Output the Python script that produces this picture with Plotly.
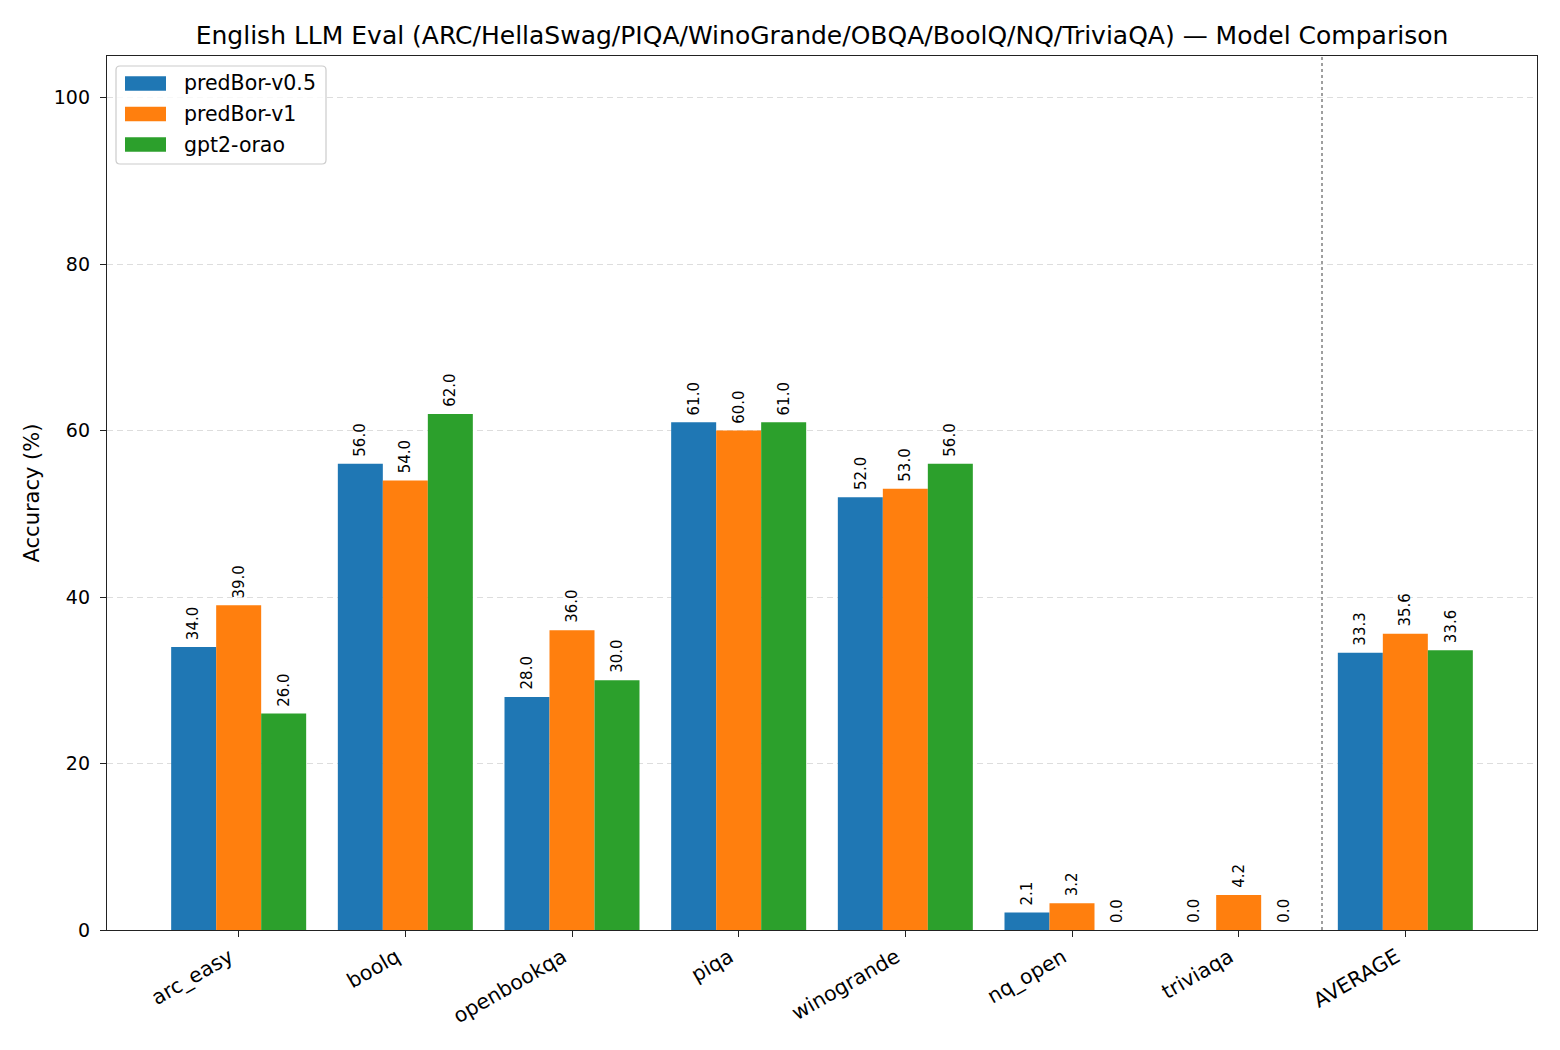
import numpy as np
import plotly.graph_objects as go

categories = ["arc_easy", "boolq", "openbookqa", "piqa", "winogrande", "nq_open", "triviaqa", "AVERAGE"]
models = ["predBor-v0.5", "predBor-v1", "gpt2-orao"]
v05 = [34.0, 56.0, 28.0, 61.0, 52.0, 2.1, 0.0, 33.3]
v1 = [39.0, 54.0, 36.0, 60.0, 53.0, 3.2, 4.2, 35.6]
orao = [26.0, 62.0, 30.0, 61.0, 56.0, 0.0, 0.0, 33.6]
colors = ["#1f77b4", "#ff7f0e", "#2ca02c"]
series = [v05, v1, orao]

FONT = "DejaVu Sans"
W, H = 1560, 1050
ML, MR, MT, MB = 107, 23, 56, 120
PW, PH = W - ML - MR, H - MT - MB


def px(xp):
    return (xp - ML) / PW


def py(yp):
    return (H - MB - yp) / PH


width = 0.27
x = np.arange(len(categories))

fig = go.Figure()
annotations = []
shapes = []
for k, (name, vals, col) in enumerate(zip(models, series, colors)):
    off = (k - 1) * width
    fig.add_trace(go.Bar(
        x=x, y=vals, name=name, marker=dict(color=col, line=dict(width=0)),
        width=width, offset=off - width / 2, showlegend=False,
    ))
    for i, v in enumerate(vals):
        annotations.append(dict(
            x=i + off, y=v, xref="x", yref="y", text=f"{v:.1f}",
            textangle=-90, showarrow=False, yanchor="bottom", xanchor="center",
            yshift=5, font=dict(family=FONT, size=15, color="black"),
        ))

# separator before AVERAGE
shapes.append(dict(type="line", x0=len(categories) - 1.5, x1=len(categories) - 1.5,
                   y0=0, y1=1, xref="x", yref="paper", layer="above",
                   line=dict(color="gray", width=1.5, dash="dot")))

# custom legend (matplotlib-like)
bx0, by0, bx1, by1, r = 116, 66, 326, 164, 4


def rounded_path(x0, y0, x1, y1, r):
    pts = []
    pts.append(f"M {px(x0 + r)} {py(y0)}")
    pts.append(f"L {px(x1 - r)} {py(y0)}")
    pts.append(f"Q {px(x1)} {py(y0)} {px(x1)} {py(y0 + r)}")
    pts.append(f"L {px(x1)} {py(y1 - r)}")
    pts.append(f"Q {px(x1)} {py(y1)} {px(x1 - r)} {py(y1)}")
    pts.append(f"L {px(x0 + r)} {py(y1)}")
    pts.append(f"Q {px(x0)} {py(y1)} {px(x0)} {py(y1 - r)}")
    pts.append(f"L {px(x0)} {py(y0 + r)}")
    pts.append(f"Q {px(x0)} {py(y0)} {px(x0 + r)} {py(y0)}")
    pts.append("Z")
    return " ".join(pts)


shapes.append(dict(type="path", path=rounded_path(bx0, by0, bx1, by1, r),
                   xref="paper", yref="paper", layer="above",
                   fillcolor="rgba(255,255,255,0.8)", line=dict(color="#cccccc", width=1.2)))
row_centers = [83.5, 114, 144.5]
for name, col, yc in zip(models, colors, row_centers):
    shapes.append(dict(type="rect", xref="paper", yref="paper", layer="above",
                       x0=px(125), x1=px(166), y0=py(yc - 7.3), y1=py(yc + 7.3),
                       fillcolor=col, line=dict(width=0)))
    annotations.append(dict(x=px(182), y=py(yc), xref="paper", yref="paper",
                            text=name, showarrow=False, xanchor="left", yanchor="middle",
                            font=dict(family=FONT, size=20.5, color="black")))

fig.update_layout(
    width=W, height=H,
    margin=dict(l=ML, r=MR, t=MT, b=MB),
    plot_bgcolor="white", paper_bgcolor="white",
    font=dict(family=FONT, size=19, color="black"),
    title=dict(text="English LLM Eval (ARC/HellaSwag/PIQA/WinoGrande/OBQA/BoolQ/NQ/TriviaQA) — Model Comparison",
               x=0.5, xref="paper", xanchor="center", y=1 - 35 / H, yanchor="middle",
               font=dict(size=25)),
    barmode="overlay",
    annotations=annotations,
    shapes=shapes,
    showlegend=False,
)
fig.update_xaxes(
    range=[-0.79, len(categories) - 1 + 0.79],
    tickmode="array", tickvals=x, ticktext=categories, tickangle=-30,
    showline=True, linecolor="#222222", linewidth=1.3, mirror=True,
    ticks="outside", ticklen=6, tickcolor="#222222", showgrid=False, zeroline=False,
    tickfont=dict(size=20.5), ticklabelshift=-9,
)
fig.update_yaxes(
    range=[0, 105], tickvals=[0, 20, 40, 60, 80, 100],
    showline=True, linecolor="#222222", linewidth=1.3, mirror=True,
    ticks="outside", ticklen=6, tickcolor="#222222", ticklabelstandoff=6,
    showgrid=True, gridcolor="#dddddd", griddash="6px,4px", gridwidth=1.2, zeroline=False,
    title=dict(text="Accuracy (%)", font=dict(size=21), standoff=8),
    tickfont=dict(size=19),
)
fig.write_html("out.html")
